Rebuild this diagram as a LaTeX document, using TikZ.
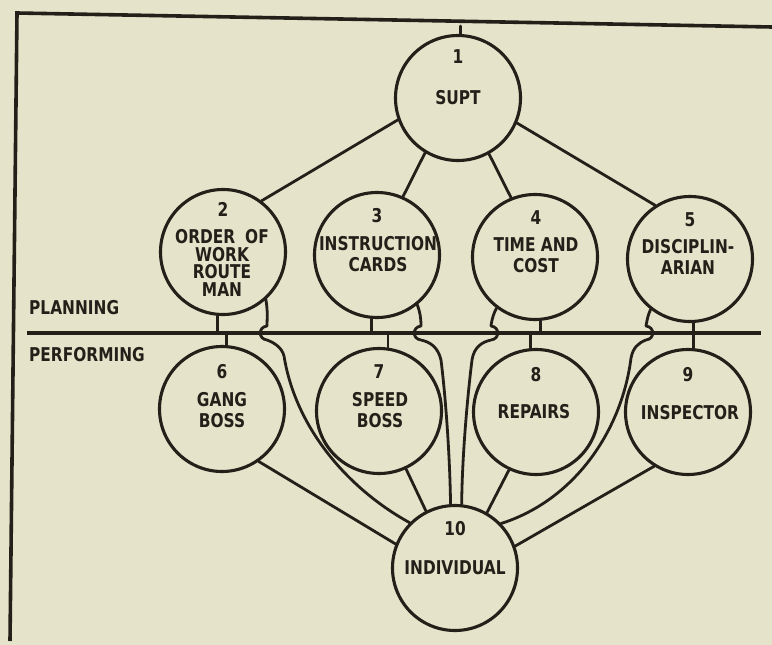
\documentclass[tikz,border=0pt]{standalone}
\usepackage{fontspec}
\newfontfamily\lblfont{DejaVu Sans Condensed Bold}[FakeStretch=0.9]
\definecolor{paper}{RGB}{230,227,203}
\definecolor{ink}{RGB}{35,32,25}
\begin{document}
\begin{tikzpicture}[x=1pt,y=1pt,
  disc/.style={circle,draw=ink,line width=3.1pt,fill=paper,minimum size=125pt,inner sep=0pt},
  lbl/.style={text=ink,font=\lblfont\fontsize{19}{21.5}\selectfont,inner sep=0pt,align=center},
  tightlbl/.style={lbl,font=\lblfont\fontsize{19}{17.5}\selectfont},
  link/.style={draw=ink,line width=2.8pt,line cap=round,line join=round},
  rulerline/.style={draw=ink,line width=3.8pt},
  frameline/.style={draw=ink,line width=3.6pt,line join=miter}]
\fill[paper] (0,0) rectangle (772,-645);
\useasboundingbox (0,0) rectangle (772,-645);
% frame
\coordinate (bTL) at (17,-13);
\coordinate (bTR) at (772,-27);
\coordinate (bBL) at (10,-641);
\draw[frameline] (bTR) -- (bTL) -- (bBL);
% divider
\coordinate (hl) at (0,-333);
\coordinate (hlL) at (27,-333);
\coordinate (hlR) at (761,-333);
\draw[rulerline] (hlL) -- (hlR);
% circles
\node[disc] (c1) at (458,-98) {};
\node[disc] (c2) at (223,-252) {};
\node[disc] (c3) at (377,-255) {};
\node[disc] (c4) at (535,-257) {};
\node[disc] (c5) at (690,-259) {};
\node[disc] (c6) at (222,-409) {};
\node[disc] (c7) at (379,-411) {};
\node[disc] (c8) at (536,-412) {};
\node[disc] (c9) at (688,-412) {};
\node[disc] (c10) at (455,-568) {};
% top tick
\draw[link] (c1.88) -- ++(0,8);
% from SUPT
\draw[link] (c1.200) -- (c2.53);
\draw[link] (c1.-121) -- (c3.66);
\draw[link] (c1.-61) -- (c4.112);
\draw[link] (c1.-23) -- (c5.123);
% stubs
\draw[link] (c2.-95) -- (c2.-95 |- hl);
\draw[link] (c3.-95) -- (c3.-95 |- hl);
\draw[link] (c4.-85) -- (c4.-85 |- hl);
\draw[link] (c5.-87) -- (c5.-87 |- hl);
\draw[link] (c6.86 |- hl) -- (c6.86);
\draw[link] (c7.82 |- hl) -- (c7.82);
\draw[link] (c8.95 |- hl) -- (c8.95);
\draw[link] (c9.85 |- hl) -- (c9.85);
% performing to individual
\draw[link] (c6.-55) -- (c10.158);
\draw[link] (c7.-65) -- (c10.117);
\draw[link] (c8.-115) -- (c10.60);
\draw[link] (c9.-122) -- (c10.20);
% planning to individual, with hops
\draw[link] (c2.-48) .. controls (268,-312) and (267,-318) .. (267,-326)
  .. controls (258,-327) and (258,-339) .. (267,-340)
  .. controls (275,-343) and (282,-348) .. (284,-356)
  .. controls (296,-430) and (350,-490) .. (c10.135);
\draw[link] (c3.-51) .. controls (420,-312) and (421,-318) .. (421,-326)
  .. controls (412,-327) and (412,-339) .. (421,-340)
  .. controls (430,-342) and (438,-347) .. (441,-360)
  .. controls (446,-400) and (450,-460) .. (c10.94);
\draw[link] (c4.-127) .. controls (494,-313) and (492,-318) .. (491,-326)
  .. controls (500,-327) and (500,-339) .. (491,-340)
  .. controls (482,-342) and (474,-347) .. (472,-360)
  .. controls (467,-400) and (462,-460) .. (c10.84);
\draw[link] (c5.-128) .. controls (648,-315) and (647,-320) .. (646,-326)
  .. controls (655,-327) and (655,-339) .. (646,-340)
  .. controls (638,-343) and (633,-348) .. (631,-358)
  .. controls (622,-430) and (575,-500) .. (c10.44);
% texts
\node[lbl] (n1) at (458,-57) {1};
\node[lbl] (t1) at (458,-98) {SUPT};
\node[lbl] (n2) at (223,-209) {2};
\node[tightlbl] (t2) at (222,-263) {ORDER\hspace{10pt}OF\\WORK\\ROUTE\\MAN};
\node[lbl] (n3) at (377,-216) {3};
\node[lbl] (t3) at (378,-254) {INSTRUCTION\\CARDS};
\node[lbl] (n4) at (536,-218) {4};
\node[lbl] (t4) at (536,-255) {TIME AND\\COST};
\node[lbl] (n5) at (690,-220) {5};
\node[lbl] (t5) at (688,-257) {DISCIPLIN-\\ARIAN};
\node[lbl] (n6) at (222,-372) {6};
\node[lbl] (t6) at (222,-410) {GANG\\BOSS};
\node[lbl] (n7) at (379,-372) {7};
\node[lbl] (t7) at (380,-410) {SPEED\\BOSS};
\node[lbl] (n8) at (536,-375) {8};
\node[lbl] (t8) at (534,-412) {REPAIRS};
\node[lbl] (n9) at (688,-375) {9};
\node[lbl] (t9) at (690,-413) {INSPECTOR};
\node[lbl] (n10) at (455,-529) {10};
\node[lbl] (t10) at (455,-568) {INDIVIDUAL};
\node[lbl,anchor=west] (plan) at (29,-308) {PLANNING};
\node[lbl,anchor=west] (perf) at (29,-355) {PERFORMING};
\end{tikzpicture}
\end{document}
